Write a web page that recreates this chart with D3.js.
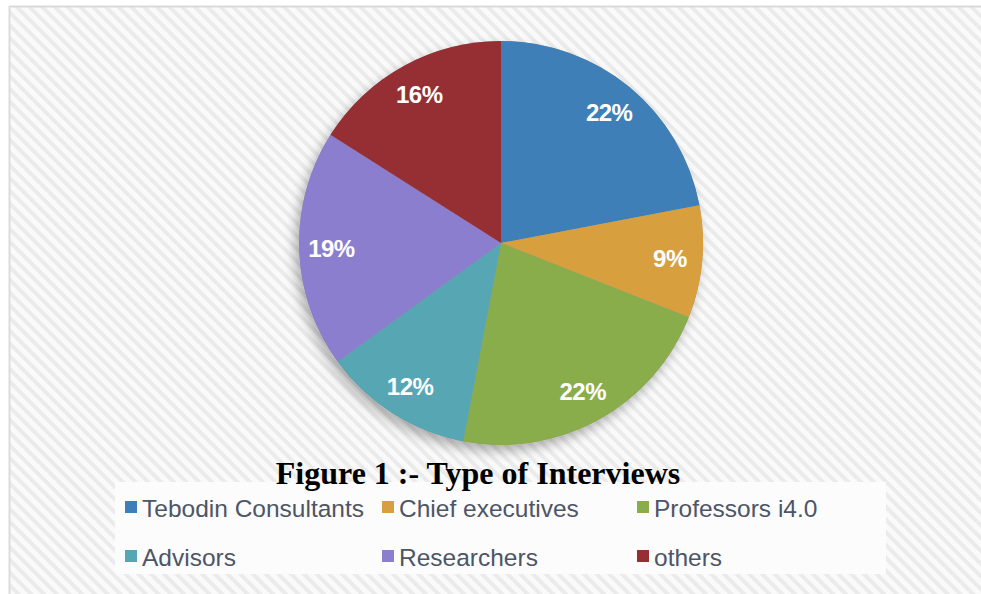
<!DOCTYPE html>
<html>
<head>
<meta charset="utf-8">
<script src="https://d3js.org/d3.v7.min.js"></script>
<style>
  html, body { margin: 0; padding: 0; background: #fff; }
</style>
</head>
<body>
<div id="chart"></div>
<script>
const categories = ['Tebodin Consultants', 'Chief executives', 'Professors i4.0', 'Advisors', 'Researchers', 'others'];
const values = [22, 9, 22, 12, 19, 16];
const colors = ['#3f7fb8', '#d89f3f', '#8aad4c', '#57a6b3', '#8b7ecf', '#952f33'];
const title = 'Figure 1 :- Type of Interviews';

const w = 981, h = 594;
const cx = 501, cy = 243, r = 202;

const svg = d3.select('#chart').append('svg')
  .attr('width', w)
  .attr('height', h);

const defs = svg.append('defs');
const pat = defs.append('pattern')
  .attr('id', 'stripes')
  .attr('patternUnits', 'userSpaceOnUse')
  .attr('width', 9)
  .attr('height', 9)
  .attr('patternTransform', 'rotate(45)');
pat.append('rect').attr('width', 9).attr('height', 9).attr('fill', '#fafafa');
pat.append('rect').attr('width', 9).attr('height', 4).attr('fill', '#ebebeb');

const shadow = defs.append('filter')
  .attr('id', 'shadow')
  .attr('x', '-20%').attr('y', '-20%')
  .attr('width', '140%').attr('height', '140%');
shadow.append('feDropShadow')
  .attr('dx', -4).attr('dy', 6)
  .attr('stdDeviation', 6)
  .attr('flood-color', '#000')
  .attr('flood-opacity', 0.3);

// frame + striped background
svg.append('rect')
  .attr('x', 9).attr('y', 6)
  .attr('width', w).attr('height', h)
  .attr('fill', 'url(#stripes)');
svg.append('line')
  .attr('x1', 9).attr('x2', w).attr('y1', 6.5).attr('y2', 6.5)
  .attr('stroke', '#d9d9d9').attr('stroke-width', 2);
svg.append('line')
  .attr('x1', 9.5).attr('x2', 9.5).attr('y1', 6).attr('y2', h)
  .attr('stroke', '#dcdcdc').attr('stroke-width', 2);

// pie
const pie = d3.pie().sort(null).value(d => d);
const arc = d3.arc().innerRadius(0).outerRadius(r);
const labelArc = d3.arc().innerRadius(r * 0.84).outerRadius(r * 0.84);
const arcs = pie(values);

const g = svg.append('g').attr('transform', `translate(${cx},${cy})`);
g.append('circle').attr('r', r).attr('fill', '#999').attr('filter', 'url(#shadow)');
g.selectAll('path.slice')
  .data(arcs)
  .enter()
  .append('path')
  .attr('class', 'slice')
  .attr('d', arc)
  .attr('fill', (d, i) => colors[i]);

g.selectAll('text.pct')
  .data(arcs)
  .enter()
  .append('text')
  .attr('class', 'pct')
  .attr('transform', d => 'translate(' + labelArc.centroid(d) + ')')
  .attr('text-anchor', 'middle')
  .attr('dy', '.35em')
  .attr('font-family', 'Liberation Sans, Arial, sans-serif')
  .attr('font-weight', 'bold')
  .attr('font-size', 24)
  .attr('letter-spacing', -0.5)
  .attr('fill', '#fff')
  .text(d => d.value + '%');

// legend box
svg.append('rect')
  .attr('x', 115).attr('y', 482)
  .attr('width', 771).attr('height', 92)
  .attr('fill', '#fcfcfc');

const colX = [125, 382, 637];
const rowY = [508, 557];
const legend = svg.append('g');
categories.forEach((c, i) => {
  const x = colX[i % 3], y = rowY[Math.floor(i / 3)];
  legend.append('rect')
    .attr('x', x).attr('y', y - 7)
    .attr('width', 12).attr('height', 12)
    .attr('fill', colors[i]);
  legend.append('text')
    .attr('x', x + 17).attr('y', y)
    .attr('dy', '.35em')
    .attr('font-family', 'Liberation Sans, Arial, sans-serif')
    .attr('font-size', 24.5)
    .attr('fill', '#4d5566')
    .text(c);
});

// title
svg.append('text')
  .attr('x', 478).attr('y', 484)
  .attr('text-anchor', 'middle')
  .attr('font-family', 'Liberation Serif, Times New Roman, serif')
  .attr('font-weight', 'bold')
  .attr('font-size', 32)
  .attr('fill', '#000')
  .text(title);
</script>
</body>
</html>
